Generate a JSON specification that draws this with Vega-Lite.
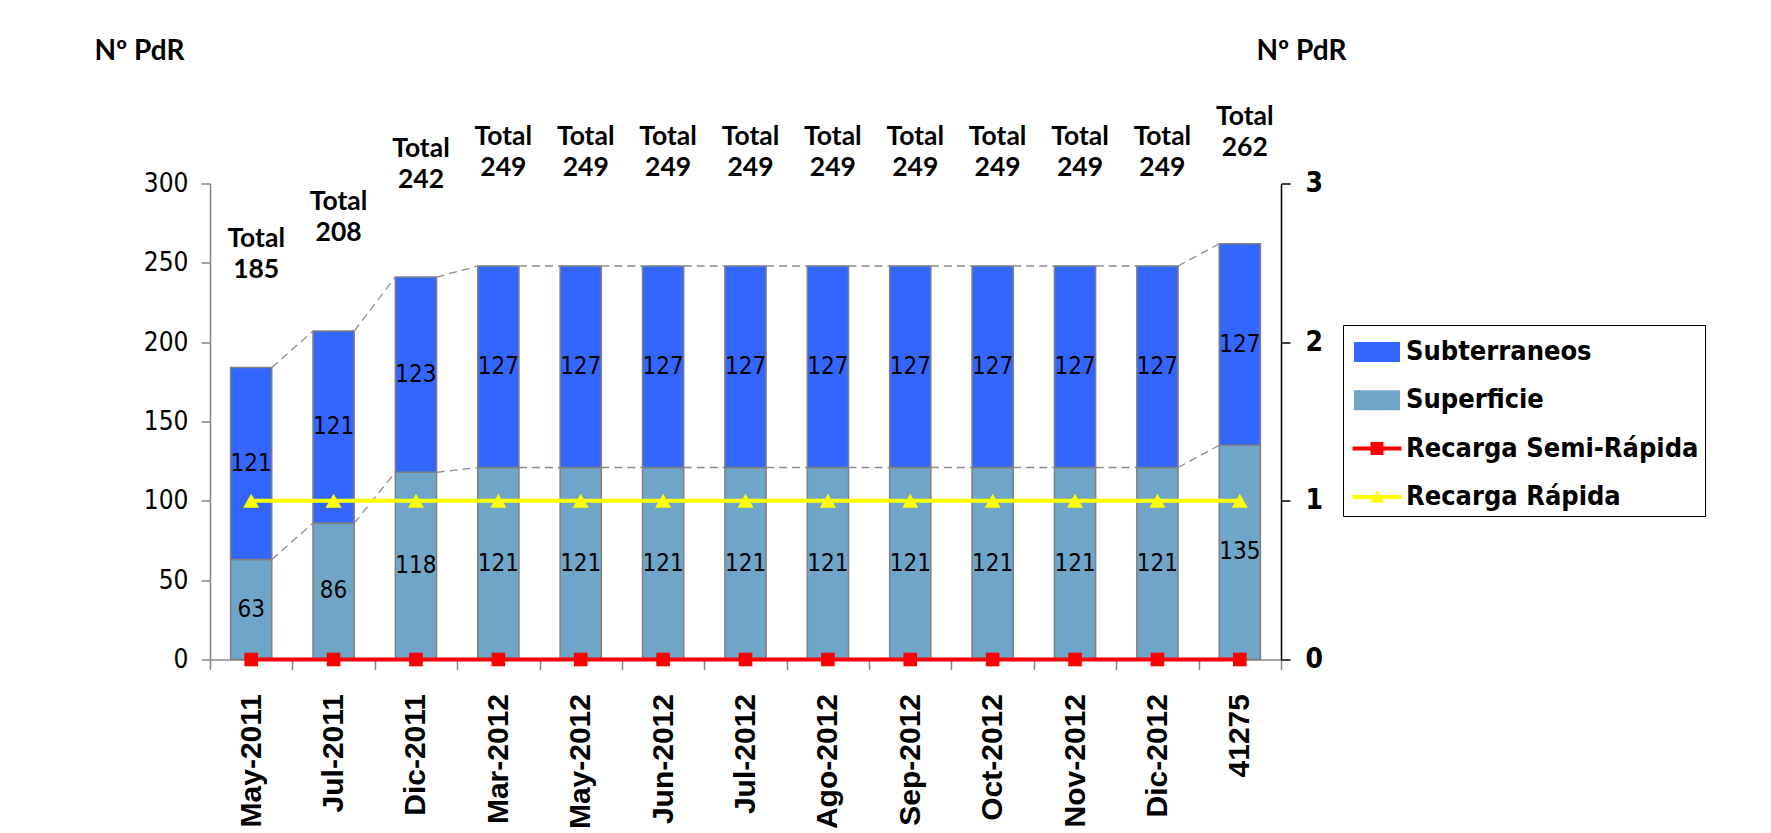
{
  "$schema": "https://vega.github.io/schema/vega-lite/v6.json",
  "width": 1071,
  "height": 476,
  "autosize": "none",
  "padding": {"left": 210, "top": 183.5, "right": 490, "bottom": 173.5},
  "background": "white",
  "config": {
    "view": {"stroke": null},
    "legend": {
      "orient": "none",
      "legendX": 1133,
      "legendY": 141.5,
      "direction": "vertical",
      "strokeColor": "black",
      "fillColor": "white",
      "padding": 6,
      "rowPadding": 14.3,
      "symbolSize": 1764,
      "symbolOffset": 7,
      "symbolStrokeWidth": 0,
      "symbolOpacity": 1,
      "labelOffset": 8,
      "labelFont": "DejaVu Sans Condensed",
      "labelFontWeight": "bold",
      "labelFontSize": 27,
      "labelColor": "black",
      "labelLimit": 0
    }
  },
  "data": {
    "values": [
      {"idx": 0, "Mes": "May-2011", "Superficie": 63, "Subterraneos": 121, "Total": 185, "SemiRapida": 0, "Rapida": 1},
      {"idx": 1, "Mes": "Jul-2011", "Superficie": 86, "Subterraneos": 121, "Total": 208, "SemiRapida": 0, "Rapida": 1},
      {"idx": 2, "Mes": "Dic-2011", "Superficie": 118, "Subterraneos": 123, "Total": 242, "SemiRapida": 0, "Rapida": 1},
      {"idx": 3, "Mes": "Mar-2012", "Superficie": 121, "Subterraneos": 127, "Total": 249, "SemiRapida": 0, "Rapida": 1},
      {"idx": 4, "Mes": "May-2012", "Superficie": 121, "Subterraneos": 127, "Total": 249, "SemiRapida": 0, "Rapida": 1},
      {"idx": 5, "Mes": "Jun-2012", "Superficie": 121, "Subterraneos": 127, "Total": 249, "SemiRapida": 0, "Rapida": 1},
      {"idx": 6, "Mes": "Jul-2012", "Superficie": 121, "Subterraneos": 127, "Total": 249, "SemiRapida": 0, "Rapida": 1},
      {"idx": 7, "Mes": "Ago-2012", "Superficie": 121, "Subterraneos": 127, "Total": 249, "SemiRapida": 0, "Rapida": 1},
      {"idx": 8, "Mes": "Sep-2012", "Superficie": 121, "Subterraneos": 127, "Total": 249, "SemiRapida": 0, "Rapida": 1},
      {"idx": 9, "Mes": "Oct-2012", "Superficie": 121, "Subterraneos": 127, "Total": 249, "SemiRapida": 0, "Rapida": 1},
      {"idx": 10, "Mes": "Nov-2012", "Superficie": 121, "Subterraneos": 127, "Total": 249, "SemiRapida": 0, "Rapida": 1},
      {"idx": 11, "Mes": "Dic-2012", "Superficie": 121, "Subterraneos": 127, "Total": 249, "SemiRapida": 0, "Rapida": 1},
      {"idx": 12, "Mes": "41275", "Superficie": 135, "Subterraneos": 127, "Total": 262, "SemiRapida": 0, "Rapida": 1}
    ]
  },
  "encoding": {
    "x": {
      "field": "Mes",
      "type": "nominal",
      "sort": null,
      "scale": {"paddingInner": 0, "paddingOuter": 0},
      "axis": {
        "title": null,
        "labelAngle": -90,
        "labelAlign": "right",
        "labelBaseline": "middle",
        "labelFont": "Liberation Sans",
        "labelFontWeight": "bold",
        "labelFontSize": 30,
        "labelColor": "black",
        "labelPadding": 24,
        "labelOverlap": false,
        "labelLimit": 0,
        "tickSize": 10,
        "tickWidth": 1.5,
        "tickColor": "#868686",
        "tickBand": "extent",
        "domainColor": "#868686",
        "domainWidth": 1.5
      }
    }
  },
  "layer": [
    {
      "layer": [
        {
          "transform": [
            {"fold": ["Superficie", "Subterraneos"], "as": ["Serie", "Valor"]},
            {"stack": "Valor", "groupby": ["Mes"], "sort": [{"field": "Serie", "order": "descending"}], "as": ["y0", "y1"]}
          ],
          "mark": {"type": "bar", "width": {"band": 0.5}, "stroke": "#808080", "strokeWidth": 1.5},
          "encoding": {
            "y": {
              "field": "y1",
              "type": "quantitative",
              "scale": {"domain": [0, 300], "nice": false},
              "axis": {
                "title": "Nº PdR",
                "values": [0, 50, 100, 150, 200, 250, 300],
                "grid": false,
                "labelFont": "DejaVu Sans Condensed",
                "labelFontSize": 26,
                "labelColor": "black",
                "labelPadding": 13,
                "tickSize": 9,
                "tickWidth": 1.5,
                "tickColor": "#868686",
                "domainColor": "#868686",
                "domainWidth": 1.5,
                "titleAngle": 0,
                "titleX": -116,
                "titleY": -132,
                "titleAlign": "left",
                "titleBaseline": "middle",
                "titleFont": "Lato",
                "titleFontSize": 28,
                "titleFontWeight": "bold",
                "titleColor": "black"
              }
            },
            "y2": {"field": "y0"},
            "color": {
              "field": "Serie",
              "type": "nominal",
              "scale": {
                "domain": ["Subterraneos", "Superficie", "SemiRapida", "Rapida"],
                "range": ["#3366FF", "#6FA5C8", "#FF0000", "#FFFF00"]
              },
              "legend": {
                "title": null,
                "labelExpr": "datum.value == 'SemiRapida' ? 'Recarga Semi-Rápida' : datum.value == 'Rapida' ? 'Recarga Rápida' : datum.value",
                "encode": {"legend": {"strokeWidth": {"value": 1.5}}}
              }
            }
          }
        },
        {
          "transform": [
            {"fold": ["Superficie", "Subterraneos"], "as": ["Serie", "Valor"]},
            {"stack": "Valor", "groupby": ["Mes"], "sort": [{"field": "Serie", "order": "descending"}], "as": ["y0", "y1"]},
            {"window": [{"op": "lead", "field": "Mes", "as": "nMes"}, {"op": "lead", "field": "y1", "as": "ny1"}], "groupby": ["Serie"], "sort": [{"field": "idx", "order": "ascending"}]},
            {"filter": "datum.nMes != null"}
          ],
          "mark": {"type": "rule", "color": "#8C8C8C", "strokeWidth": 1.3, "strokeDash": [8, 5], "xOffset": 20.6, "x2Offset": -20.6},
          "encoding": {
            "x2": {"field": "nMes"},
            "y": {"field": "y1", "type": "quantitative"},
            "y2": {"field": "ny1"}
          }
        },
        {
          "transform": [
            {"fold": ["Superficie", "Subterraneos"], "as": ["Serie", "Valor"]},
            {"stack": "Valor", "groupby": ["Mes"], "sort": [{"field": "Serie", "order": "descending"}], "as": ["y0", "y1"]},
            {"calculate": "(datum.y0 + datum.y1) / 2", "as": "mid"}
          ],
          "mark": {"type": "text", "font": "DejaVu Sans Condensed", "fontSize": 24, "color": "black", "baseline": "middle", "align": "center"},
          "encoding": {
            "y": {"field": "mid", "type": "quantitative"},
            "text": {"field": "Valor", "type": "quantitative"}
          }
        },
        {
          "mark": {"type": "text", "font": "Lato", "fontWeight": "bold", "fontSize": 26.5, "color": "black", "baseline": "alphabetic", "align": "center", "dx": 5, "dy": -119},
          "encoding": {
            "y": {"field": "Total", "type": "quantitative"},
            "text": {"value": "Total"}
          }
        },
        {
          "mark": {"type": "text", "font": "Lato", "fontWeight": "bold", "fontSize": 26.5, "color": "black", "baseline": "alphabetic", "align": "center", "dx": 5, "dy": -88},
          "encoding": {
            "y": {"field": "Total", "type": "quantitative"},
            "text": {"field": "Total", "type": "quantitative"}
          }
        }
      ]
    },
    {
      "transform": [
        {"fold": ["SemiRapida", "Rapida"], "as": ["Serie", "Valor"]}
      ],
      "layer": [
        {
          "mark": {"type": "line", "strokeWidth": 4},
          "encoding": {
            "y": {
              "field": "Valor",
              "type": "quantitative",
              "scale": {"domain": [0, 3], "nice": false},
              "axis": {
                "orient": "right",
                "title": "Nº PdR",
                "values": [0, 1, 2, 3],
                "format": "d",
                "grid": false,
                "labelFont": "DejaVu Sans Condensed",
                "labelFontWeight": "bold",
                "labelFontSize": 28,
                "labelColor": "black",
                "labelPadding": 15,
                "tickSize": 9,
                "tickWidth": 1.5,
                "tickColor": "black",
                "domainColor": "black",
                "domainWidth": 1.5,
                "titleAngle": 0,
                "titleX": -25,
                "titleY": -132,
                "titleAlign": "left",
                "titleBaseline": "middle",
                "titleFont": "Lato",
                "titleFontSize": 28,
                "titleFontWeight": "bold",
                "titleColor": "black"
              }
            },
            "color": {"field": "Serie", "type": "nominal"},
            "detail": {"field": "Serie"}
          }
        },
        {
          "mark": {"type": "point", "filled": true, "opacity": 0, "size": 10},
          "encoding": {
            "y": {"field": "Valor", "type": "quantitative"},
            "color": {"field": "Serie", "type": "nominal"},
            "shape": {
              "field": "Serie",
              "type": "nominal",
              "scale": {
                "domain": ["Subterraneos", "Superficie", "SemiRapida", "Rapida"],
                "range": [
                  "M-1.095,-0.476H1.095V0.476H-1.095Z",
                  "M-1.095,-0.476H1.095V0.476H-1.095Z",
                  "M-1.167,-0.095H1.167V0.095H-1.167Z M-0.31,-0.31H0.31V0.31H-0.31Z",
                  "M-1.167,-0.095H1.167V0.095H-1.167Z M0,-0.32L0.33,0.27H-0.33Z"
                ]
              },
              "legend": {
                "title": null,
                "labelExpr": "datum.value == 'SemiRapida' ? 'Recarga Semi-Rápida' : datum.value == 'Rapida' ? 'Recarga Rápida' : datum.value"
              }
            }
          }
        },
        {
          "transform": [{"filter": "datum.Serie == 'SemiRapida'"}],
          "mark": {"type": "point", "shape": "square", "filled": true, "size": 185, "color": "#FF0000", "opacity": 1},
          "encoding": {
            "y": {"field": "Valor", "type": "quantitative"}
          }
        },
        {
          "transform": [{"filter": "datum.Serie == 'Rapida'"}],
          "mark": {"type": "point", "shape": "triangle-up", "filled": true, "size": 260, "color": "#FFFF00", "opacity": 1},
          "encoding": {
            "y": {"field": "Valor", "type": "quantitative"}
          }
        }
      ]
    }
  ],
  "resolve": {"scale": {"y": "independent"}}
}
